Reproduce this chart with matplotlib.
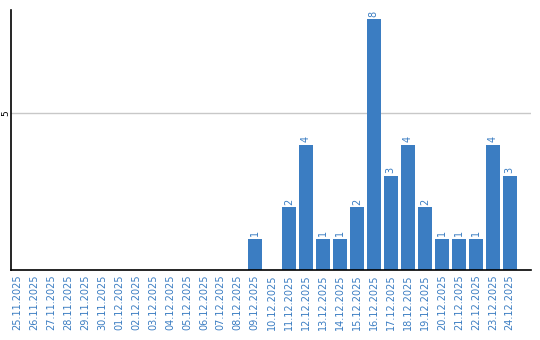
import matplotlib
matplotlib.use("Agg")
import matplotlib.pyplot as plt

dates = ["25.11.2025", "26.11.2025", "27.11.2025", "28.11.2025", "29.11.2025",
         "30.11.2025", "01.12.2025", "02.12.2025", "03.12.2025", "04.12.2025",
         "05.12.2025", "06.12.2025", "07.12.2025", "08.12.2025", "09.12.2025",
         "10.12.2025", "11.12.2025", "12.12.2025", "13.12.2025", "14.12.2025",
         "15.12.2025", "16.12.2025", "17.12.2025", "18.12.2025", "19.12.2025",
         "20.12.2025", "21.12.2025", "22.12.2025", "23.12.2025", "24.12.2025"]
counts = [0, 0, 0, 0, 0, 0, 0, 0, 0, 0, 0, 0, 0, 0, 1,
          0, 2, 4, 1, 1, 2, 8, 3, 4, 2, 1, 1, 1, 4, 3]

blue = "#3b7dc2"

fig = plt.figure(figsize=(5.4, 3.4), dpi=100)
ax = fig.add_axes([0.0204, 0.206, 0.9626, 0.765])

x = range(len(dates))
ax.bar(x, counts, width=0.82, color=blue, zorder=3)

for i, v in enumerate(counts):
    if v > 0:
        ax.text(i, v + 0.08, str(v), rotation=90, ha="center", va="bottom",
                fontsize=7, color=blue)

ax.set_xlim(-0.35, 30.24)
ax.set_ylim(0, 8.3)
ax.set_xticks(list(x))
ax.set_xticklabels(dates, rotation=90, fontsize=7, color=blue)
ax.set_yticks([5])
ax.set_yticklabels(["5"], rotation=90, fontsize=6.5, va="center")
ax.tick_params(axis="both", length=0, pad=3)
ax.tick_params(axis="y", pad=0.8)
ax.grid(axis="y", color="#c8c8c8", linewidth=1, zorder=0)

for s in ["top", "right"]:
    ax.spines[s].set_visible(False)
ax.spines["left"].set_linewidth(1.2)
ax.spines["bottom"].set_linewidth(1.2)
ax.spines["bottom"].set_zorder(4)

fig.savefig("out.png", dpi=100)
